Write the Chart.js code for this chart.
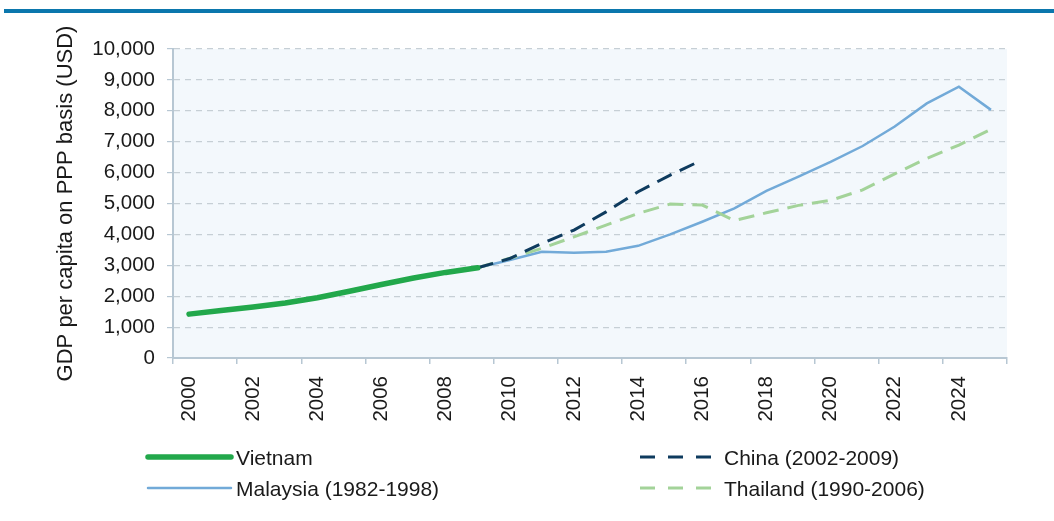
<!DOCTYPE html>
<html>
<head>
<meta charset="utf-8">
<script src="https://cdn.jsdelivr.net/npm/chart.js@4.4.1/dist/chart.umd.min.js"></script>
<style>
  body { margin: 0; background: #ffffff; }
  #wrap { position: relative; width: 1054px; height: 521px; }
  #topBar { position: absolute; left: 4px; right: 0; top: 9px; height: 4px; background: #0b77ad; }
</style>
</head>
<body>
<div id="wrap">
  <div id="topBar"></div>
  <canvas id="gdpChart" width="1054" height="521"></canvas>
</div>
<script>
// Años del eje X (2000-2025)
const years = ['2000','2001','2002','2003','2004','2005','2006','2007','2008','2009','2010','2011','2012',
               '2013','2014','2015','2016','2017','2018','2019','2020','2021','2022','2023','2024','2025'];

// Series (USD, PPP), null = sin dato
const vietnam  = [1420, 1540, 1650, 1780, 1950, 2160, 2380, 2590, 2770, 2920,
                  null, null, null, null, null, null, null, null, null, null, null, null, null, null, null, null];
const malaysia = [null, null, null, null, null, null, null, null, null, 2920,
                  3170, 3440, 3410, 3440, 3630, 4000, 4410, 4840, 5410, 5870, 6350, 6860, 7490, 8240, 8780, 8030];
const china    = [null, null, null, null, null, null, null, null, null, 2920,
                  3220, 3710, 4140, 4730, 5380, 5920, 6410, null, null, null, null, null, null, null, null, null];
const thailand = [null, null, null, null, null, null, null, null, null, 2920,
                  3230, 3550, 3920, 4300, 4680, 4980, 4950, 4450, 4700, 4940, 5100, 5440, 5960, 6460, 6890, 7400];

const yTicks = [0, 1000, 2000, 3000, 4000, 5000, 6000, 7000, 8000, 9000, 10000];

const seriesNames = ['Vietnam', 'Malaysia (1982-1998)', 'China (2002-2009)', 'Thailand (1990-2006)'];

const fontFamily = "'Liberation Sans', Arial, sans-serif";
const textColor = '#1a1a1a';

// Fondo del área del gráfico
const plotBackground = {
    id: 'plotBackground',
    beforeDraw(chart) {
        const {ctx, chartArea} = chart;
        ctx.save();
        ctx.fillStyle = '#f3f8fc';
        ctx.fillRect(chartArea.left, chartArea.top, chartArea.right - chartArea.left, chartArea.bottom - chartArea.top);
        ctx.restore();
    }
};

// Leyenda en dos columnas, debajo del eje
const legendGrid = {
    id: 'legendGrid',
    afterDraw(chart) {
        const ctx = chart.ctx;
        const slots = [
            {x1: 148, x2: 231, y: 457, tx: 236},
            {x1: 148, x2: 231, y: 488, tx: 236},
            {x1: 640, x2: 714, y: 457, tx: 724},
            {x1: 640, x2: 714, y: 488, tx: 724}
        ];
        chart.data.datasets.forEach((ds, i) => {
            const s = slots[i];
            ctx.save();
            ctx.strokeStyle = ds.borderColor;
            ctx.lineWidth = ds.borderWidth;
            ctx.lineCap = ds.borderDash ? 'butt' : 'round';
            ctx.setLineDash(ds.borderDash ? [15, 13] : []);
            ctx.beginPath();
            ctx.moveTo(s.x1, s.y);
            ctx.lineTo(s.x2, s.y);
            ctx.stroke();
            ctx.setLineDash([]);
            ctx.fillStyle = textColor;
            ctx.font = '21px ' + fontFamily;
            ctx.textBaseline = 'middle';
            ctx.textAlign = 'left';
            ctx.fillText(ds.label, s.tx, s.y + 2);
            ctx.restore();
        });
    }
};

const data = {
    labels: years,
    datasets: [{
        label: seriesNames[0],
        data: vietnam,
        borderColor: '#22a84b',
        borderWidth: 5.5,
        borderCapStyle: 'round',
        order: 0
    }, {
        label: seriesNames[1],
        data: malaysia,
        borderColor: '#72aad8',
        borderWidth: 2.5,
        order: 3
    }, {
        label: seriesNames[2],
        data: china,
        borderColor: '#0e3b5e',
        borderWidth: 3,
        borderDash: [16, 9],
        order: 1
    }, {
        label: seriesNames[3],
        data: thailand,
        borderColor: '#a3d399',
        borderWidth: 3,
        borderDash: [16, 9],
        order: 2
    }]
};

const options = {
    responsive: false,
    animation: false,
    devicePixelRatio: 1,
    layout: { padding: { left: 0, right: 47, top: 49, bottom: 0 } },
    elements: {
        point: { radius: 0 },
        line: { tension: 0, fill: false }
    },
    plugins: {
        legend: { display: false },
        tooltip: { enabled: false }
    },
    scales: {
        x: {
            offset: true,
            grid: {
                offset: true,
                drawOnChartArea: false,
                drawTicks: true,
                tickLength: 6,
                color: c => (c.index === undefined || c.index % 2 === 0) ? '#b7c7d3' : 'rgba(0,0,0,0)',
                lineWidth: 1.5
            },
            border: { display: true, color: '#b7c7d3', width: 2 },
            ticks: {
                autoSkip: false,
                minRotation: 90,
                maxRotation: 90,
                padding: 12,
                color: textColor,
                font: { size: 20.5, family: fontFamily },
                callback: function (val, i) {
                    return i % 2 === 0 ? this.getLabelForValue(val) : '';
                }
            },
            afterFit: scale => { scale.height = 163; }
        },
        y: {
            min: yTicks[0],
            max: yTicks[yTicks.length - 1],
            afterBuildTicks: scale => { scale.ticks = yTicks.map(v => ({value: v})); },
            grid: {
                color: '#c6cfd5',
                tickColor: '#b7c7d3',
                tickLength: 6,
                lineWidth: 1.2
            },
            border: { display: true, color: '#b7c7d3', width: 2, dash: [6, 5] },
            ticks: {
                padding: 12,
                color: textColor,
                font: { size: 20.5, family: fontFamily },
                callback: v => v.toLocaleString('en-US')
            },
            title: {
                display: true,
                text: 'GDP per capita on PPP basis (USD)',
                color: textColor,
                font: { size: 22, family: fontFamily },
                padding: { top: 53, bottom: 0 }
            },
            afterFit: scale => { scale.width = 173; }
        }
    }
};

new Chart('gdpChart', { type: 'line', data, options, plugins: [plotBackground, legendGrid] });
</script>
</body>
</html>
